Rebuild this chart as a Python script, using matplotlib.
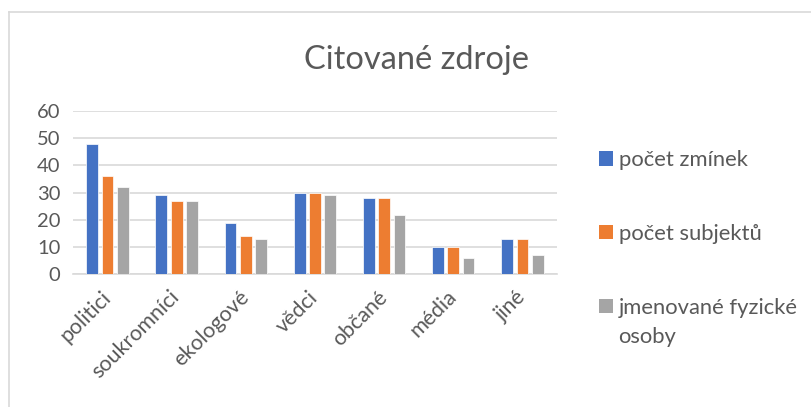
import matplotlib.pyplot as plt
from matplotlib.patches import Patch
from matplotlib.lines import Line2D
import numpy as np

plt.rcParams['font.family'] = ['Lato', 'DejaVu Sans']

# Data
categories = ["politici", "soukromníci", "ekologové", "vědci", "občané", "média", "jiné"]
zminky = [48, 29, 19, 30, 28, 10, 13]
subjekty = [36, 27, 14, 30, 28, 10, 13]
osoby = [32, 27, 13, 29, 22, 6, 7]
series_names = ["počet zmínek", "počet subjektů", "jmenované fyzické"]
colors = ["#4472C4", "#ED7D31", "#A5A5A5"]
text_color = "#595959"
grid_color = "#D9D9D9"

fig = plt.figure(figsize=(8.12, 4.07), dpi=100)
ax = fig.add_axes([0.0899, 0.3256, 0.596, 0.4017])

x = np.arange(len(categories))
width = 0.17
step = 0.222
for i, (vals, col) in enumerate(zip([zminky, subjekty, osoby], colors)):
    ax.bar(x + (i - 1) * step, vals, width, color=col, edgecolor="white",
           linewidth=0.5, zorder=3)

ax.set_xlim(-0.5, len(categories) - 0.5)
ax.set_ylim(0, 60)
ax.set_yticks(range(0, 61, 10))
ax.yaxis.grid(True, color=grid_color, linewidth=1.2, zorder=0)
for s in ["top", "right", "left"]:
    ax.spines[s].set_visible(False)
ax.spines["bottom"].set_color(grid_color)
ax.spines["bottom"].set_linewidth(1.2)
ax.tick_params(length=0, labelcolor=text_color, labelsize=14.5)
ax.tick_params(axis="y", pad=9)
ax.set_xticks(x)
ax.set_xticklabels(categories, rotation=45, ha="right", va="center",
                   rotation_mode="anchor", fontsize=15.5)
ax.tick_params(axis="x", pad=14)

fig.text(0.513, 0.853, "Citované zdroje", ha="center", va="center",
         fontsize=23.5, color=text_color)

handles = [Patch(facecolor=c) for c in colors]
leg = fig.legend(handles, series_names, loc="upper left",
                 bbox_to_anchor=(599 / 812, 1 - 150 / 407), frameon=False,
                 borderpad=0, borderaxespad=0,
                 handlelength=0.64, handleheight=0.64, handletextpad=0.25,
                 labelspacing=2.45, fontsize=15.8, labelcolor=text_color)
# second line of the last legend label
fig.text(618 / 812, 1 - 337 / 407, "osoby", ha="left", va="center",
         fontsize=15.8, color=text_color)

# chart border (top and left)
fig.add_artist(Line2D([9 / 812, 1], [1 - 12 / 407, 1 - 12 / 407],
                      transform=fig.transFigure, color=grid_color, linewidth=1.2))
fig.add_artist(Line2D([9 / 812, 9 / 812], [0, 1 - 12 / 407],
                      transform=fig.transFigure, color=grid_color, linewidth=1.2))

fig.savefig("out.png", dpi=100)
